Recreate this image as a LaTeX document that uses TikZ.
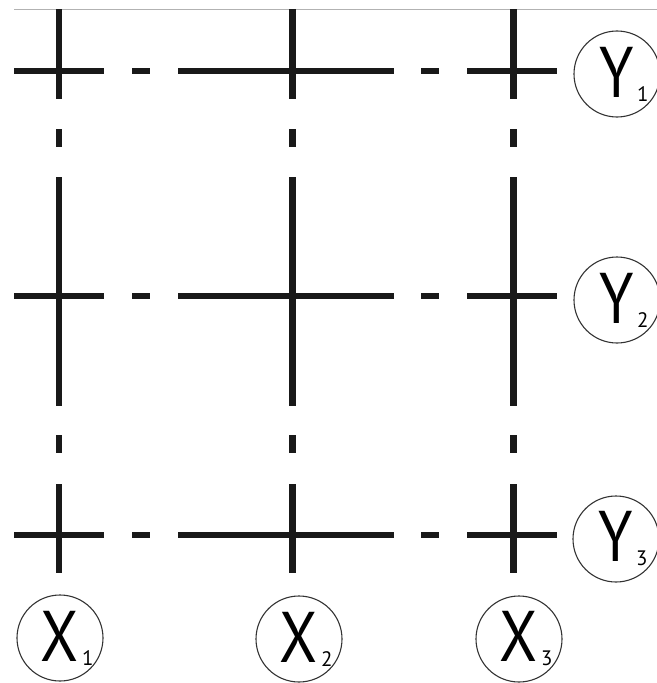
\documentclass[tikz,border=0pt]{standalone}
\usepackage{fontspec}
\setmainfont{PT Sans}
\usepackage{tikz}
\usetikzlibrary{positioning}

\newcommand{\axsub}[1]{\rlap{\kern3bp\raisebox{-4bp}{\fontsize{21}{21}\selectfont #1}}}
\newcommand{\axname}[1]{\scalebox{0.86}[1]{#1}}

\begin{document}
\begin{tikzpicture}[x=1bp, y=-1bp]

	\tikzstyle{gridline}=[line width=6.5bp, black!90]
	\tikzstyle{axis}=[circle, draw=black!80, line width=1.1bp, minimum size=86bp, inner sep=0pt, font=\fontsize{72}{72}\selectfont]

	\useasboundingbox (0,0) rectangle (657,683);

	\draw [black!30, line width=1bp] (14,9.5) -- (657,9.5);

	% columns
	\foreach \c in {59, 292.5, 513.5} {
		\draw [gridline] (\c, 9.5) -- (\c, 99);
		\draw [gridline] (\c, 129) -- (\c, 147);
		\draw [gridline] (\c, 177) -- (\c, 406);
		\draw [gridline] (\c, 435) -- (\c, 453);
		\draw [gridline] (\c, 484) -- (\c, 573);
	}

	% rows
	\foreach \r in {71, 296, 535} {
		\draw [gridline] (14, \r) -- (104, \r);
		\draw [gridline] (132, \r) -- (150, \r);
		\draw [gridline] (178, \r) -- (394, \r);
		\draw [gridline] (421, \r) -- (439, \r);
		\draw [gridline] (467, \r) -- (557, \r);
	}

	\node (y1) at (617, 74) [axis] {\axname{Y}\axsub{1}};
	\node (y2) at (617, 300) [axis] {\axname{Y}\axsub{2}};
	\node (y3) at (616, 539) [axis] {\axname{Y}\axsub{3}};

	\node (x1) at (60, 638) [axis] {\axname{X}\axsub{1}};
	\node (x2) at (299, 639) [axis] {\axname{X}\axsub{2}};
	\node (x3) at (519, 639) [axis] {\axname{X}\axsub{3}};

\end{tikzpicture}
\end{document}
